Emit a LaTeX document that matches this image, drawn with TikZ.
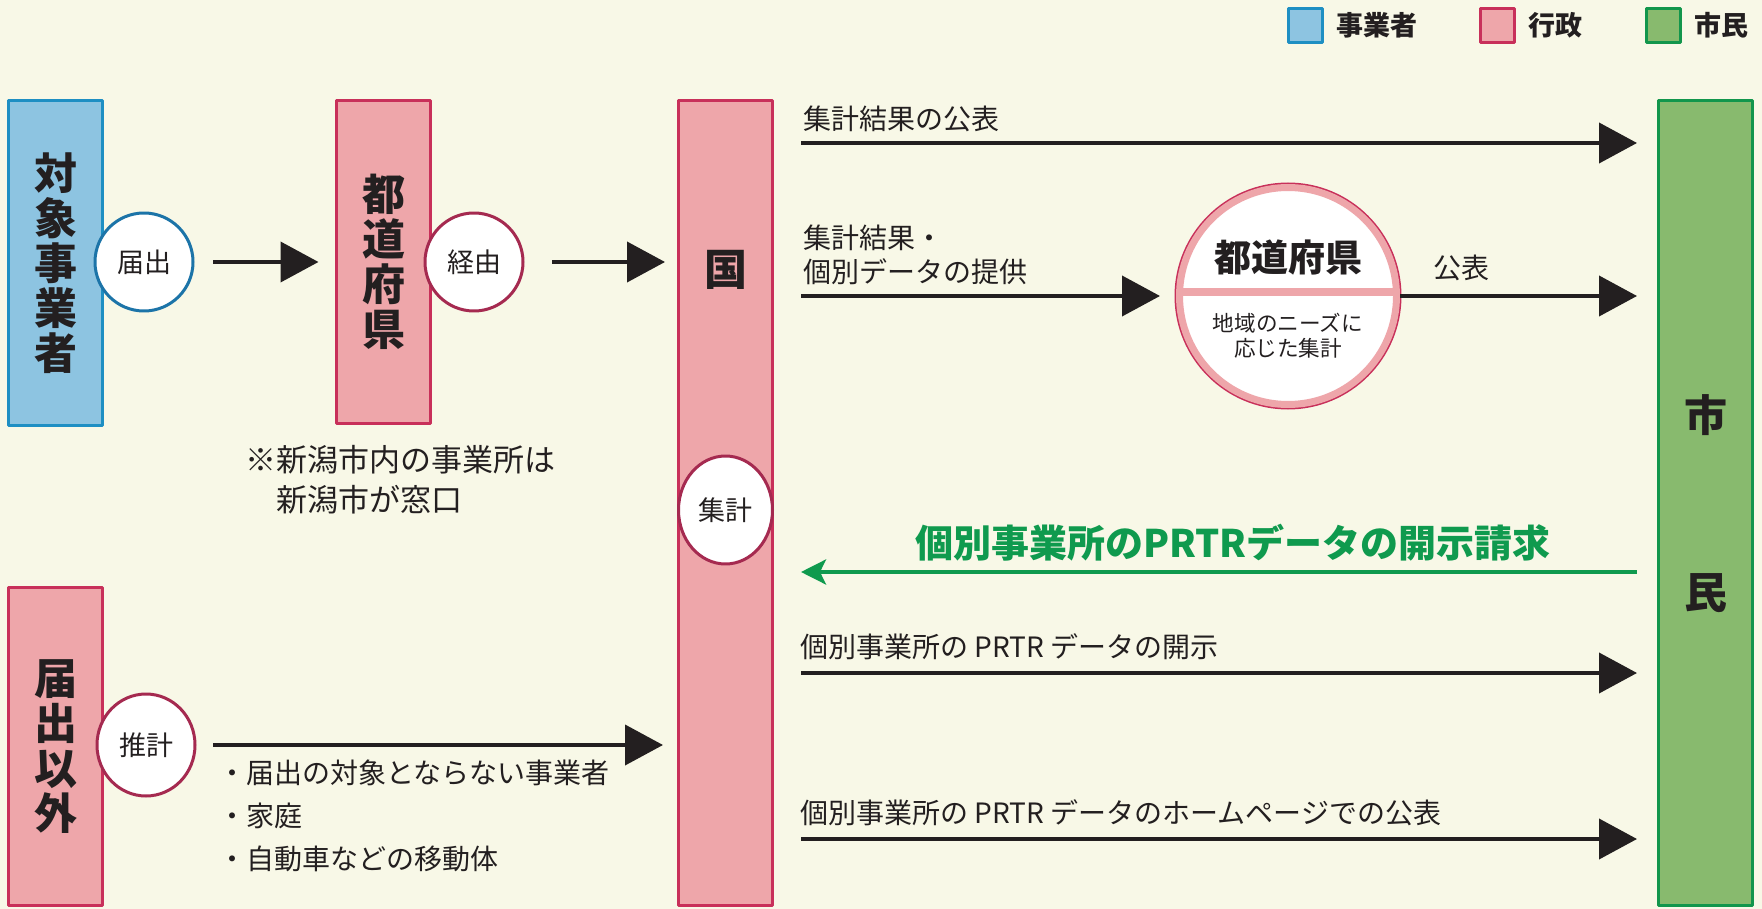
\documentclass[tikz,border=0pt]{standalone}
\usepackage{fontspec}
\setmainfont{Noto Sans CJK JP}
\usetikzlibrary{arrows.meta,shapes.geometric,positioning}

\definecolor{bgcol}{HTML}{F8F8E7}
\definecolor{bizfill}{HTML}{8DC4E1}
\definecolor{bizline}{HTML}{1E8FC3}
\definecolor{govfill}{HTML}{EEA6AA}
\definecolor{govline}{HTML}{C8305A}
\definecolor{citfill}{HTML}{88BA6E}
\definecolor{citline}{HTML}{12964C}
\definecolor{ringblue}{HTML}{1C74A8}
\definecolor{ringred}{HTML}{A52A50}
\definecolor{reqgreen}{HTML}{0F9A4E}
\definecolor{inkblack}{HTML}{231F20}

\tikzset{
  box/.style={rectangle, anchor=north west, outer sep=0pt, inner sep=0pt, line width=1.5pt,
    minimum width=47pt, align=center, text=inkblack, font=\bfseries\fontsize{21.5}{22.5}\selectfont},
  bizbox/.style={box, draw=bizline, fill=bizfill},
  govbox/.style={box, draw=govline, fill=govfill},
  citbox/.style={box, draw=citline, fill=citfill},
  boxlabel/.style={inner sep=0pt, text=inkblack, font=\bfseries\fontsize{21.5}{22.5}\selectfont},
  keysq/.style={rectangle, minimum size=17pt, line width=1.5pt, inner sep=0pt},
  keytext/.style={anchor=west, inner sep=0pt, text=inkblack, font=\bfseries\fontsize{13.5}{14}\selectfont},
  ring/.style={circle, fill=white, line width=1.5pt, inner sep=0pt, outer sep=0pt, minimum size=49pt,
    text=inkblack, font=\fontsize{13.5}{14}\selectfont},
  oval/.style={ring, ellipse},
  flow/.style={line width=2pt, draw=inkblack, -{Triangle[length=19pt,width=20pt]}},
  reqflow/.style={line width=2pt, draw=reqgreen, -{Stealth[length=12.5pt,width=12.5pt,inset=3pt]}},
  lbl/.style={anchor=west, inner sep=0pt, align=left, text=inkblack, font=\fontsize{14}{17}\selectfont},
}

\begin{document}
\begin{tikzpicture}[x=0.5pt, y=-0.5pt, line join=round]
\fill[bgcol] (0,0) rectangle (1762,909);
\useasboundingbox (0,0) rectangle (1762,909);

% legend
\node[keysq, draw=bizline, fill=bizfill] (keybiz) at (1305,25.5) {};
\node[keytext, right=6.5pt of keybiz] {事業者};
\node[keysq, draw=govline, fill=govfill] (keygov) at (1497,25.5) {};
\node[keytext, right=6.5pt of keygov] {行政};
\node[keysq, draw=citline, fill=citfill] (keycit) at (1663,25.5) {};
\node[keytext, right=6.5pt of keycit] {市民};

% columns
\node[bizbox, minimum height=162.5pt] (taisho) at (8.5,100.5) {対\\象\\事\\業\\者};
\node[govbox, minimum height=161.5pt] (pref) at (336.5,100.5) {都\\道\\府\\県};
\node[govbox, minimum height=159pt] (igai) at (8.5,587.5) {届\\出\\以\\外};
\node[govbox, minimum height=402.5pt] (kuni) at (678.5,100.5) {};
\node[citbox, minimum height=402.5pt] (shimin) at (1658.5,100.5) {};
\node[boxlabel] (kunitext) at (725.5,270) {国};
\node[boxlabel] (shitext) at (1705.5,415) {市};
\node[boxlabel] (mintext) at (1705.5,593) {民};

% circles
\node[ring, draw=ringblue] (todokede) at (144,262) {届出};
\node[ring, draw=ringred] (keiyu) at (474,262) {経由};
\node[oval, draw=ringred, minimum width=47pt, minimum height=54pt] (shukei) at (725.5,510) {集計};
\node[oval, draw=ringred, minimum width=49pt, minimum height=51pt] (suikei) at (146,745) {推計};

% prefecture circle
\node[circle, draw=govline, fill=white, line width=1.5pt, minimum size=112pt, inner sep=0pt, outer sep=0pt] (bigc) at (1288,296) {};
\draw[govfill, line width=3.5pt] (bigc.center) circle[radius=108.5];
\draw[govfill, line width=4pt, shorten <=1.5pt, shorten >=1.5pt] ([yshift=2pt]bigc.west) -- ([yshift=2pt]bigc.east);
\node[inner sep=0pt, text=inkblack, font=\bfseries\fontsize{18.5}{19}\selectfont] (bigtitle) at ([yshift=19pt]bigc.center) {都道府県};
\node[inner sep=0pt, align=center, text=inkblack, font=\fontsize{10.8}{12.5}\selectfont] (bignote) at ([yshift=-19.75pt]bigc.center) {地域のニーズに\\応じた集計};

% texts
\node[lbl, font=\fontsize{15.5}{20}\selectfont] (note) at (245,480) {※新潟市内の事業所は\\\phantom{※}新潟市が窓口};
\node[lbl, font=\fontsize{14}{21.5}\selectfont] (others) at (218,816) {・届出の対象とならない事業者\\・家庭\\・自動車などの移動体};
\node[lbl] (lab1) at (803,119) {集計結果の公表};
\node[lbl] (lab2) at (803,255) {集計結果・\\個別データの提供};
\node[lbl] (lab3) at (1433,268) {公表};
\node[lbl, anchor=center, text=reqgreen, font=\bfseries\fontsize{19}{20}\selectfont] (labreq) at (1233,543) {個別事業所のPRTRデータの開示請求};
\node[lbl] (lab4) at (800,647) {個別事業所の PRTR データの開示};
\node[lbl] (lab5) at (800,813) {個別事業所の PRTR データのホームページでの公表};

% rows on the right
\coordinate (row1) at (0,143);
\coordinate (rowreq) at (0,572);
\coordinate (row4) at (0,673);
\coordinate (row5) at (0,839);

% arrows
\draw[flow, shorten <=10pt, shorten >=9pt] (todokede) -- (pref);
\draw[flow, shorten <=14.5pt, shorten >=6.75pt] (keiyu.east) -- (keiyu.east -| kuni.west);
\draw[flow, shorten <=9pt, shorten >=7.75pt] (suikei.east) -- (suikei.east -| kuni.west);
\draw[flow, shorten <=14.25pt, shorten >=10.75pt] (kuni.east |- row1) -- (shimin.west |- row1);
\draw[flow, shorten <=14.25pt, shorten >=8pt] (kuni.east |- bigc) -- (bigc.west);
\draw[flow, shorten >=10.75pt] (bigc.east) -- (bigc.east -| shimin.west);
\draw[reqflow, shorten <=11pt, shorten >=14.25pt] (shimin.west |- rowreq) -- (kuni.east |- rowreq);
\draw[flow, shorten <=14.25pt, shorten >=10.75pt] (kuni.east |- row4) -- (shimin.west |- row4);
\draw[flow, shorten <=14.25pt, shorten >=10.75pt] (kuni.east |- row5) -- (shimin.west |- row5);
\end{tikzpicture}
\end{document}
